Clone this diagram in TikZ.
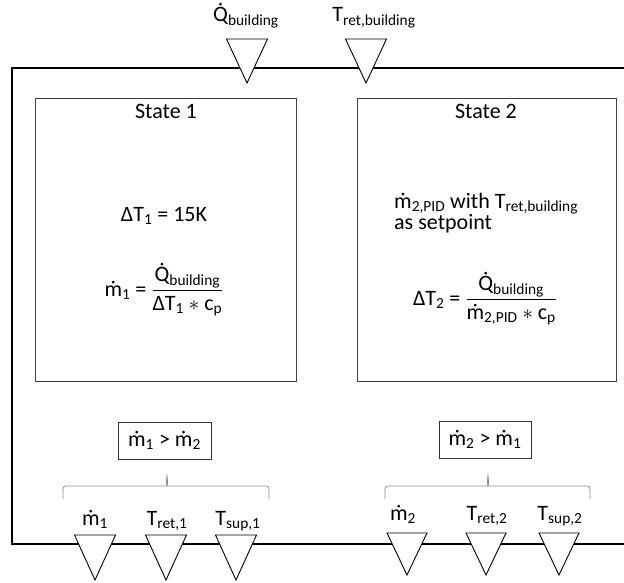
\documentclass[tikz,border=0pt]{standalone}
\usepackage{fontspec}
\usepackage{amsmath}
\setmainfont{Carlito}
% subscripts set in the text font
\newcommand\lo[1]{\ensuremath{_{\text{#1}}}}
% flow quantities carry a dot above
\newcommand\mflow{\accent"02D9 m}
\newcommand\Qflow{\accent"02D9 Q}
% downward-pointing sensor triangle: centre x, top y, half width, height
\newcommand\drawsensor[4]{\draw[sensor] (#1-#3,#2) -- (#1+#3,#2) -- (#1,#2+#4) -- cycle;}
\tikzset{
  txt/.style={inner sep=0pt, font=\fontsize{22}{26}\selectfont},
  statebox/.style={draw=black!75, line width=0.9pt},
  cmpbox/.style={draw=black!80, line width=0.9pt, inner sep=0pt, font=\fontsize{22}{26}\selectfont},
  frame/.style={draw=black, line width=1.1pt},
  sensor/.style={draw=black, fill=white, line width=0.9pt, line join=miter},
  brace/.style={draw=black!45, line width=0.8pt, rounded corners=3pt},
}
\begin{document}
\begin{tikzpicture}[x=1pt,y=-1pt]
\useasboundingbox (0,0) rectangle (624,583);

% outer frame, open to the right
\draw[frame] (624,68) -- (12,68) -- (12,544) -- (624,544);

% inputs on top
\drawsensor{247}{39}{20.5}{44}
\drawsensor{366}{39}{20.5}{44}
\node[txt, anchor=base] (qlab) at (246,22) {\Qflow\lo{building}};
\node[txt, anchor=base] (tlab) at (374,22) {T\lo{ret,building}};

% the two states
\node[statebox, minimum width=261pt, minimum height=283pt] (s1) at (165.5,239.5) {};
\node[statebox, minimum width=259pt, minimum height=283pt] (s2) at (486.5,239.5) {};

\node[txt, anchor=base] (s1title) at (166,119) {State 1};
\node[txt, anchor=base] (s1dt) at (164,221) {ΔT\lo{1} = 15K};
\node[txt, anchor=base] (s1m) at (164,296)
  {\mflow\lo{1} = $\dfrac{\text{\Qflow\lo{building}}}{\text{ΔT\lo{1} $\ast$ c\lo{p}}}$};

\node[txt, anchor=base] (s2title) at (486,119) {State 2};
\node[txt, anchor=base west] (s2a) at (394,208) {\mflow\lo{2,PID} with T\lo{ret,building}};
\node[txt, anchor=base west] (s2b) at (394,229) {as setpoint};
\node[txt, anchor=base] (s2dt) at (485,305)
  {ΔT\lo{2} = $\dfrac{\text{\Qflow\lo{building}}}{\text{\mflow\lo{2,PID} $\ast$ c\lo{p}}}$};

% comparisons
\node[cmpbox, minimum width=93pt, minimum height=37pt] (c1) at (164.5,440.5) {\mflow\lo{1} > \mflow\lo{2}};
\node[cmpbox, minimum width=92pt, minimum height=37pt] (c2) at (485,439.5) {\mflow\lo{2} > \mflow\lo{1}};

% braces grouping the outputs
\draw[brace] (63,499) |- (163,486) to[out=0,in=-90] (167,472)
  to[out=-90,in=180] (171,486) -| (269,499);
\draw[brace] (385,499) |- (484,486) to[out=0,in=-90] (488,472)
  to[out=-90,in=180] (492,486) -| (590,499);

% outputs at the bottom
\drawsensor{95}{535}{20.5}{45}
\drawsensor{166}{535}{20.5}{45}
\drawsensor{236}{535}{20.5}{45}
\drawsensor{407}{533}{20}{42}
\drawsensor{486}{533}{20}{42}
\drawsensor{559}{533}{20}{42}

\node[txt, anchor=base] (o1m) at (95,525) {\mflow\lo{1}};
\node[txt, anchor=base] (o1r) at (167,525) {T\lo{ret,1}};
\node[txt, anchor=base] (o1s) at (238,525) {T\lo{sup,1}};
\node[txt, anchor=base] (o2m) at (403,520) {\mflow\lo{2}};
\node[txt, anchor=base] (o2r) at (487,520) {T\lo{ret,2}};
\node[txt, anchor=base] (o2s) at (560,520) {T\lo{sup,2}};
\end{tikzpicture}
\end{document}
